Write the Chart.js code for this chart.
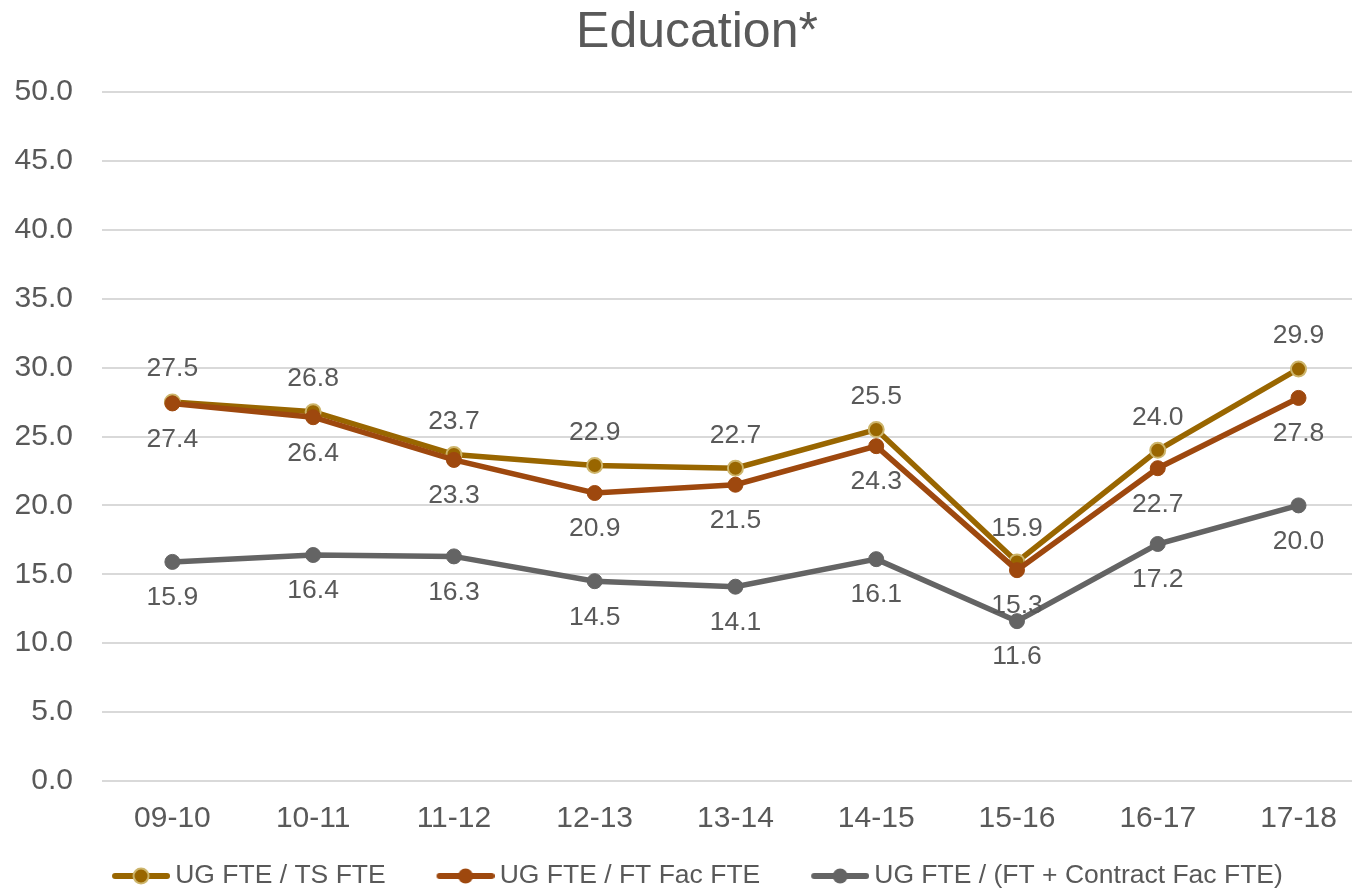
<!DOCTYPE html>
<html>
<head>
<meta charset="utf-8">
<title>Education*</title>
<script src="https://cdn.jsdelivr.net/npm/chart.js@4.4.1/dist/chart.umd.min.js"></script>
<style>
    html, body { margin: 0; padding: 0; background: #fff; }
    canvas { display: block; }
</style>
</head>
<body>
<canvas id="edu-chart" width="1352" height="891"></canvas>
<script>
const years = ['09-10', '10-11', '11-12', '12-13', '13-14', '14-15', '15-16', '16-17', '17-18'];
const tsFte = [27.5, 26.8, 23.7, 22.9, 22.7, 25.5, 15.9, 24.0, 29.9];
const ftFacFte = [27.4, 26.4, 23.3, 20.9, 21.5, 24.3, 15.3, 22.7, 27.8];
const ftContractFte = [15.9, 16.4, 16.3, 14.5, 14.1, 16.1, 11.6, 17.2, 20.0];
const yTicks = [0, 5, 10, 15, 20, 25, 30, 35, 40, 45, 50];

const textColor = '#595959';
const fontFamily = '"Liberation Sans", Arial, sans-serif';

// legend marker: short thick line with a dot, sitting at the right end of the image
function makeMarker(color, border) {
    const c = document.createElement('canvas');
    c.width = 67;
    c.height = 20;
    const g = c.getContext('2d');
    g.strokeStyle = color;
    g.lineWidth = 6;
    g.lineCap = 'round';
    g.beginPath();
    g.moveTo(12, 10);
    g.lineTo(64, 10);
    g.stroke();
    g.beginPath();
    g.arc(38, 10, 7.5, 0, Math.PI * 2);
    g.fillStyle = color;
    g.fill();
    if (border) {
        g.lineWidth = 2;
        g.strokeStyle = border;
        g.stroke();
    }
    return c;
}

function toPoints(values) {
    return values.map((v, i) => ({ x: i, y: v }));
}

// value labels above / below each point, plus the year labels under the axis
const valueLabels = {
    id: 'valueLabels',
    afterDatasetsDraw(chart) {
        const ctx = chart.ctx;
        ctx.save();
        ctx.font = '26.5px ' + fontFamily;
        ctx.fillStyle = textColor;
        ctx.textAlign = 'center';
        ctx.textBaseline = 'middle';
        chart.data.datasets.forEach((ds, i) => {
            const meta = chart.getDatasetMeta(i);
            const offset = ds.labelAt === 'above' ? -33 : 36;
            meta.data.forEach((pt, j) => {
                ctx.fillText(ds.data[j].y.toFixed(1), pt.x, pt.y + offset);
            });
        });

        const xScale = chart.scales.x;
        ctx.font = '30px ' + fontFamily;
        years.forEach((label, i) => {
            ctx.fillText(label, xScale.getPixelForValue(i), chart.chartArea.bottom + 38);
        });
        ctx.restore();
    }
};

const ctx = document.getElementById('edu-chart').getContext('2d');
new Chart(ctx, {
    type: 'line',
    data: {
        datasets: [
            {
                label: 'UG FTE / TS FTE',
                data: toPoints(tsFte),
                borderColor: '#996600',
                backgroundColor: '#996600',
                pointBackgroundColor: '#996600',
                pointBorderColor: '#CDB56B',
                pointBorderWidth: 2,
                pointRadius: 7.5,
                borderWidth: 5.5,
                labelAt: 'above',
                order: 3
            },
            {
                label: 'UG FTE / FT Fac FTE',
                data: toPoints(ftFacFte),
                borderColor: '#9E480E',
                backgroundColor: '#9E480E',
                pointBackgroundColor: '#9E480E',
                pointBorderColor: '#9E480E',
                pointBorderWidth: 1,
                pointRadius: 7.5,
                borderWidth: 5.5,
                labelAt: 'below',
                order: 2
            },
            {
                label: 'UG FTE / (FT + Contract Fac FTE)',
                data: toPoints(ftContractFte),
                borderColor: '#646464',
                backgroundColor: '#646464',
                pointBackgroundColor: '#646464',
                pointBorderColor: '#646464',
                pointBorderWidth: 1,
                pointRadius: 7.5,
                borderWidth: 5.5,
                labelAt: 'below',
                order: 1
            }
        ]
    },
    options: {
        responsive: false,
        animation: false,
        layout: { autoPadding: false, padding: { left: 42, right: 0, top: 0, bottom: -8.25 } },
        scales: {
            x: {
                type: 'linear',
                min: -0.5,
                max: 8.38,
                grid: { display: false },
                border: { display: false },
                afterFit: scale => { scale.height = 31.75; },
                ticks: { display: false, stepSize: 1 }
            },
            y: {
                min: yTicks[0],
                max: yTicks[yTicks.length - 1],
                afterFit: scale => { scale.width = 60; },
                afterBuildTicks: scale => { scale.ticks = yTicks.map(v => ({ value: v })); },
                grid: { color: '#D9D9D9', lineWidth: 2, drawTicks: false },
                border: { display: false },
                ticks: {
                    mirror: true,
                    crossAlign: 'far',
                    padding: -87.4,
                    color: textColor,
                    font: { family: fontFamily, size: 30 },
                    callback: v => v.toFixed(1)
                }
            }
        },
        plugins: {
            title: {
                display: true,
                text: 'Education*',
                color: textColor,
                font: { family: fontFamily, size: 50, weight: 'normal' },
                padding: { top: 3, bottom: 29 }
            },
            legend: {
                position: 'bottom',
                labels: {
                    usePointStyle: true,
                    pointStyleWidth: 50.75,
                    padding: 50,
                    color: textColor,
                    font: { family: fontFamily, size: 26.5 },
                    sort: (a, b) => a.datasetIndex - b.datasetIndex,
                    generateLabels: chart => chart.data.datasets.map((ds, i) => ({
                        text: ds.label,
                        datasetIndex: i,
                        fontColor: textColor,
                        pointStyle: makeMarker(ds.borderColor, i === 0 ? ds.pointBorderColor : null),
                        lineWidth: 0,
                        hidden: false
                    }))
                }
            },
            tooltip: { enabled: false }
        }
    },
    plugins: [valueLabels]
});
</script>
</body>
</html>
